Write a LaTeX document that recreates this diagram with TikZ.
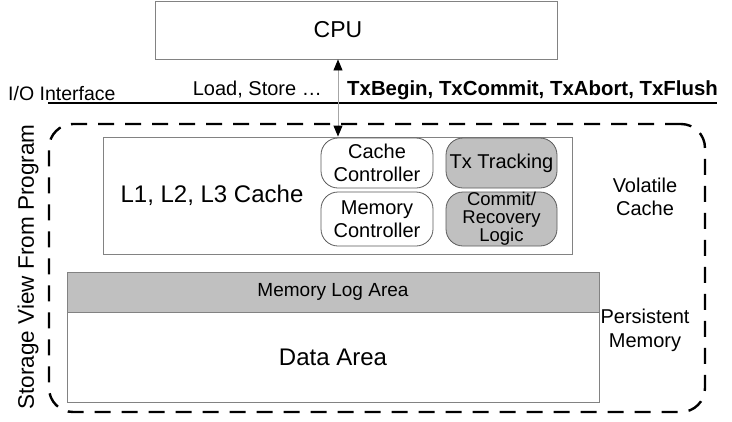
\documentclass[tikz,border=0pt]{standalone}
\usepackage{fontspec}
\setmainfont{Liberation Sans}
\usetikzlibrary{arrows.meta}
\definecolor{boxgray}{RGB}{192,192,192}
\definecolor{edgegray}{RGB}{130,130,130}
\definecolor{darkedge}{RGB}{90,90,90}
\tikzset{
  plainbox/.style={draw=edgegray, line width=0.9pt, fill=white, inner sep=0pt},
  ctrlbox/.style={draw=darkedge, line width=0.8pt, rounded corners=17pt, inner sep=0pt, align=center,
     font=\fontsize{20}{23.5}\selectfont},
  txbox/.style={ctrlbox, fill=boxgray},
  storagebox/.style={draw=black, line width=2.4pt, dash pattern=on 16pt off 11pt, rounded corners=24pt, inner sep=0pt},
  txt/.style={inner sep=0pt, align=center, font=\fontsize{20}{24}\selectfont},
  ioline/.style={draw=black, line width=2pt},
  busarrow/.style={draw=gray!70, line width=0.9pt, {Triangle[length=11pt,width=9pt,fill=black,color=black]}-{Triangle[length=11pt,width=9pt,fill=black,color=black]}}
}
\begin{document}
\begin{tikzpicture}[x=1pt,y=-1pt]
\useasboundingbox (0,0) rectangle (732,421);
% CPU
\node[plainbox, minimum width=402pt, minimum height=58pt] (cpu) at (356,30) {};
\node[txt, font=\fontsize{23}{27}\selectfont] (cpulabel) at (338,30) {CPU};
% I/O interface
\coordinate (io1) at (48,103);
\coordinate (io2) at (717,103);
\draw[ioline] (io1) -- (io2);
\node[txt, anchor=base west, font=\fontsize{19.5}{23}\selectfont] (iolabel) at (8,100) {I/O Interface};
\node[txt, anchor=base east, font=\fontsize{20}{24}\selectfont] (ldst) at (322,95) {Load, Store …};
\node[txt, anchor=base west, font=\fontsize{20.4}{24}\selectfont\bfseries] (txops) at (347,95) {TxBegin, TxCommit, TxAbort, TxFlush};
% storage view
\node[storagebox, minimum width=656pt, minimum height=288pt] (storage) at (377,268) {};
\node[txt, rotate=90, font=\fontsize{22.5}{26}\selectfont] (svlabel) at (28,267) {Storage View From Program};
% cache
\node[plainbox, minimum width=469pt, minimum height=117pt] (cache) at (337.5,195.5) {};
\node[txt, font=\fontsize{24}{28}\selectfont] (cachelabel) at (212,195) {L1, L2, L3 Cache};
\node[ctrlbox, minimum width=112pt, minimum height=50pt, fill=white] (cc) at (377,163) {Cache\\Controller};
\node[ctrlbox, minimum width=112pt, minimum height=54pt, fill=white] (mc) at (377,219) {Memory\\Controller};
\node[txbox, minimum width=111pt, minimum height=50pt] (txt1) at (501.5,163) {Tx Tracking};
\node[txbox, minimum width=111pt, minimum height=54pt, font=\fontsize{18.5}{18}\selectfont] (crl) at (501.5,219) {Commit/\\Recovery\\Logic};
% arrow
\draw[busarrow] (cpu.south -| cpulabel) -- (cache.north -| cpulabel);
% memory
\node[plainbox, fill=boxgray, minimum width=532pt, minimum height=40pt] (log) at (333,292) {};
\node[txt, font=\fontsize{19}{23}\selectfont] (loglabel) at (333,292) {Memory Log Area};
\node[plainbox, minimum width=532pt, minimum height=90pt, anchor=north] (data) at (log.south) {};
\node[txt, font=\fontsize{24}{28}\selectfont] (datalabel) at (333,357) {Data Area};
% side labels
\node[txt, font=\fontsize{20}{23}\selectfont] (vol) at (645,197) {Volatile\\Cache};
\node[txt, font=\fontsize{20}{24}\selectfont] (pers) at (645,330) {Persistent\\Memory};
\end{tikzpicture}
\end{document}
